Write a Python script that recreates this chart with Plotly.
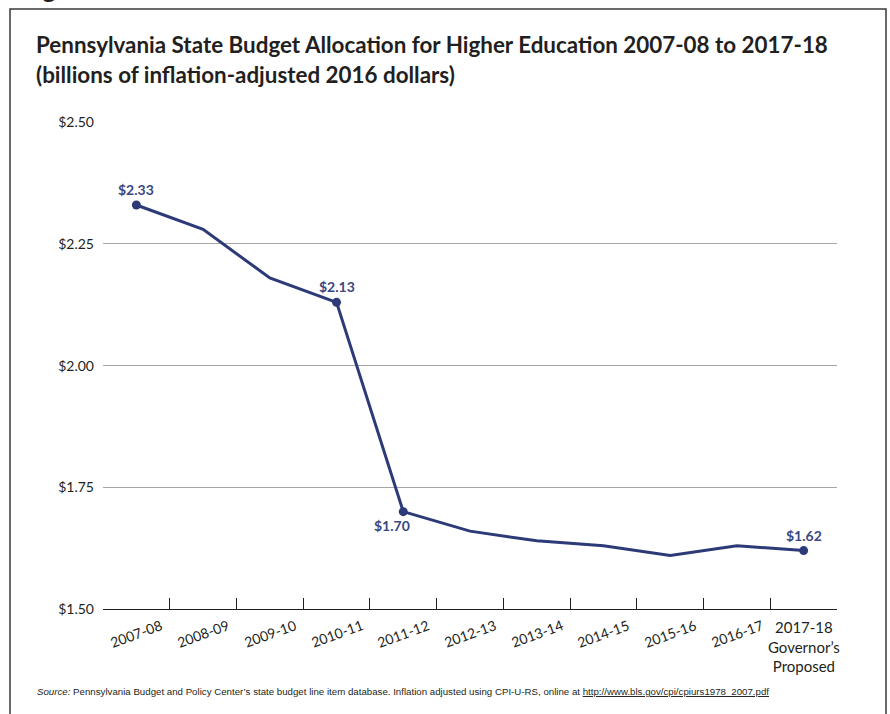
import plotly.graph_objects as go

# Fiscal years and Pennsylvania higher-education appropriations (billions, 2016 dollars)
years = ["2007-08", "2008-09", "2009-10", "2010-11", "2011-12", "2012-13",
         "2013-14", "2014-15", "2015-16", "2016-17", "2017-18"]
last_label = "2017-18<br>Governor\u2019s<br>Proposed"
budget = [2.33, 2.28, 2.18, 2.13, 1.70, 1.66, 1.64, 1.63, 1.61, 1.63, 1.62]

# Points that carry a value label, and where the label sits
labeled = {"2007-08": "above", "2010-11": "above", "2011-12": "below", "2017-18": "above"}

y_ticks = [1.50, 1.75, 2.00, 2.25, 2.50]
y_ticktext = ["$1.50", "$1.75", "$2.00", "$2.25", "$2.50"]

W, H = 890, 714
ML, MR, MT, MB = 103, 53, 122, 105
PW, PH = W - ML - MR, H - MT - MB

NAVY = "#2c3a78"
FONT = "Lato"


def px_x(px):
    return (px - ML) / PW


def px_y(py):
    return (H - MB - py) / PH


fig = go.Figure()

fig.add_trace(go.Scatter(
    x=years, y=budget, mode="lines",
    line=dict(color=NAVY, width=3),
    hoverinfo="skip", showlegend=False,
))

mk_x = [y for y in years if y in labeled]
mk_y = [budget[years.index(y)] for y in mk_x]
fig.add_trace(go.Scatter(
    x=mk_x, y=mk_y, mode="markers",
    marker=dict(color=NAVY, size=9),
    hoverinfo="skip", showlegend=False,
))

annotations = []
for yr, pos in labeled.items():
    v = budget[years.index(yr)]
    if pos == "above":
        annotations.append(dict(x=yr, y=v, xref="x", yref="y", text=f"<b>${v:.2f}</b>",
                                showarrow=False, yanchor="bottom", yshift=5,
                                font=dict(family=FONT, size=14, color="#3a4782")))
    else:
        annotations.append(dict(x=yr, y=v, xref="x", yref="y", text=f"<b>${v:.2f}</b>",
                                showarrow=False, yanchor="top", yshift=-3, xshift=-11,
                                font=dict(family=FONT, size=14, color="#3a4782")))

# Category labels under the axis: slanted for most years, stacked for the last one
for yr in years[:-1]:
    annotations.append(dict(x=yr, y=px_y(633), xref="x", yref="paper", text=yr,
                            showarrow=False, textangle=-20,
                            xanchor="center", yanchor="middle",
                            font=dict(family=FONT, size=14, color="#231f20")))
annotations.append(dict(x=years[-1], y=px_y(616), xref="x", yref="paper", text=last_label,
                        showarrow=False, xanchor="center", yanchor="top",
                        font=dict(family=FONT, size=15, color="#231f20")))

# Title, two lines
annotations.append(dict(x=px_x(34), y=px_y(45), xref="paper", yref="paper",
                        text="<b>Pennsylvania State Budget Allocation for Higher Education 2007-08 to 2017-18</b>",
                        showarrow=False, xanchor="left", yanchor="middle",
                        font=dict(family=FONT, size=22.4, color="#231f20")))
annotations.append(dict(x=px_x(34), y=px_y(74), xref="paper", yref="paper",
                        text="<b>(billions of inflation-adjusted 2016 dollars)</b>",
                        showarrow=False, xanchor="left", yanchor="middle",
                        font=dict(family=FONT, size=22.4, color="#231f20")))

# Source note
annotations.append(dict(x=px_x(35), y=px_y(691), xref="paper", yref="paper",
                        text="<i>Source:</i> Pennsylvania Budget and Policy Center\u2019s state budget line item database. "
                             "Inflation adjusted using CPI-U-RS, online at "
                             "<span style='text-decoration:underline'>http://www.bls.gov/cpi/cpiurs1978_2007.pdf</span>",
                        showarrow=False, xanchor="left", yanchor="middle",
                        font=dict(family="Liberation Sans Narrow, Liberation Sans", size=9.7, color="#231f20")))

# Figure caption above the frame (runs off the top of the page)
annotations.append(dict(x=px_x(20), y=px_y(9), xref="paper", yref="paper",
                        text="<b>Figure</b>", showarrow=False,
                        xanchor="left", yanchor="bottom", borderpad=0, yshift=4,
                        font=dict(family=FONT, size=26, color="#231f20")))

# Frame around the chart
shapes = [dict(type="rect", xref="paper", yref="paper",
               x0=px_x(10), x1=px_x(886), y0=px_y(730), y1=px_y(9),
               line=dict(color="#3a3a3a", width=1.5), fillcolor="rgba(0,0,0,0)", layer="below")]

fig.update_layout(
    width=W, height=H,
    margin=dict(l=ML, r=MR, t=MT, b=MB),
    paper_bgcolor="white", plot_bgcolor="white",
    annotations=annotations, shapes=shapes,
    showlegend=False,
    font=dict(family=FONT, color="#231f20"),
)

fig.update_xaxes(
    type="category", categoryorder="array", categoryarray=years,
    range=[-0.5, 10.5],
    showticklabels=False, showgrid=False,
    showline=True, linecolor="#231f20", linewidth=1,
    ticks="inside", tickson="boundaries", ticklen=11, tickcolor="#231f20", tickwidth=1,
    fixedrange=True,
)

fig.update_yaxes(
    range=[1.5, 2.5005],
    tickvals=y_ticks, ticktext=y_ticktext,
    showgrid=True, gridcolor="#a6a6a6", gridwidth=1,
    zeroline=False, showline=False, ticks="",
    ticklabelstandoff=8,
    tickfont=dict(family=FONT, size=14, color="#231f20"),
    fixedrange=True,
)

fig.write_html("out.html")
